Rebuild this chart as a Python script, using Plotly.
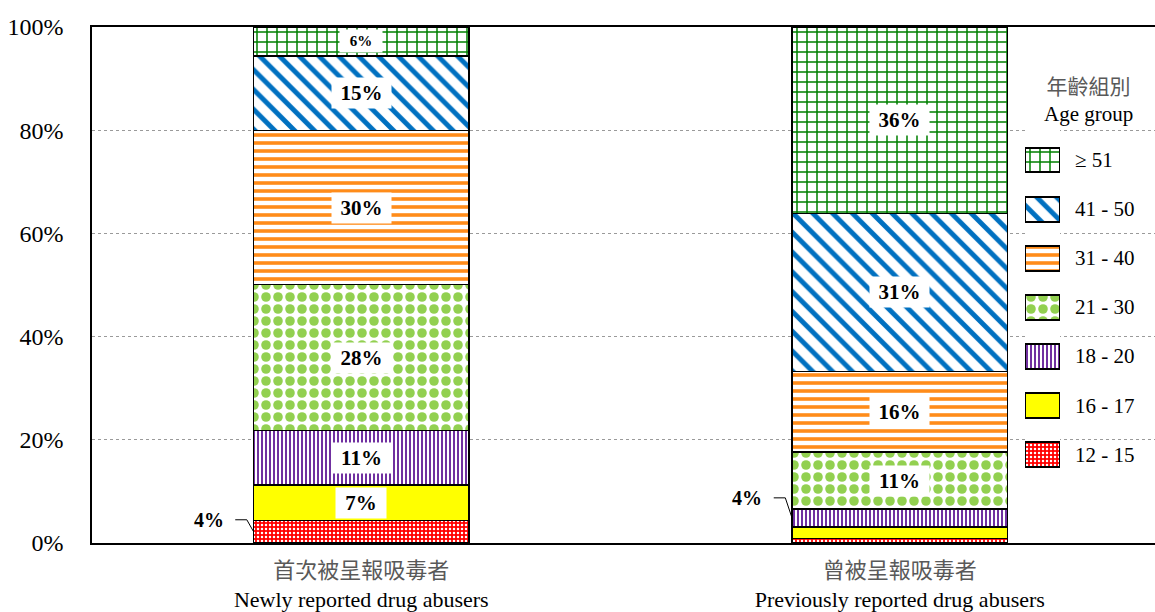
import plotly.graph_objects as go

# ---------------- data ----------------
categories_zh = ["首次被呈報吸毒者", "曾被呈報吸毒者"]
categories_en = ["Newly reported drug abusers", "Previously reported drug abusers"]
age_groups = ["12 - 15", "16 - 17", "18 - 20", "21 - 30", "31 - 40", "41 - 50", "≥ 51"]
newly = [4.4, 6.8, 10.6, 28.3, 29.8, 14.5, 5.6]
previously = [0.9, 2.2, 3.5, 11.0, 15.6, 30.7, 36.1]
newly_labels = ["4%", "7%", "11%", "28%", "30%", "15%", "6%"]
previously_labels = ["", "", "4%", "11%", "16%", "31%", "36%"]
y_tick_values = [0, 20, 40, 60, 80, 100]
y_tick_labels = ["0%", "20%", "40%", "60%", "80%", "100%"]
legend_title_zh = "年齡組別"
legend_title_en = "Age group"

# ---------------- styles ----------------
FONT = "Times New Roman, Liberation Serif, Noto Sans CJK TC, serif"
GREY = "#595959"
styles = [
    dict(bg="#FF0000", shape=".", fg="#FFFFFF", size=4, sol=0.3),
    dict(bg="#FFFF00", shape="", fg="#FFFF00", size=8, sol=0.3),
    dict(bg="#FFFFFF", shape="|", fg="#7030A0", size=4, sol=0.5),
    dict(bg="#FFFFFF", shape=".", fg="#92D050", size=12, sol=0.5),
    dict(bg="#FFFFFF", shape="-", fg="#FF8C1A", size=8, sol=0.45),
    dict(bg="#FFFFFF", shape="\\", fg="#0070C0", size=14, sol=0.35),
    dict(bg="#FFFFFF", shape="+", fg="#008000", size=10, sol=0.28),
]
BAR_W = 0.4
series = [newly, previously]
series_labels = [newly_labels, previously_labels]
xpos = list(range(len(categories_en)))


def marker_for(st, lw=1.5):
    return dict(
        color=st["bg"],
        pattern=dict(shape=st["shape"], fgcolor=st["fg"], bgcolor=st["bg"],
                     size=st["size"], solidity=st["sol"], fillmode="replace"),
        line=dict(color="black", width=lw),
    )


fig = go.Figure()

# main stacked bars
for k, grp in enumerate(age_groups):
    fig.add_trace(go.Bar(
        x=xpos, y=[s[k] for s in series], width=BAR_W, name=grp,
        marker=marker_for(styles[k]), showlegend=False, hoverinfo="skip",
        xaxis="x", yaxis="y",
    ))

annotations = []
# in-bar labels and outside leader labels
outside_offsets = {0: 2.3, 1: 3.9}
for j, (vals, labs) in enumerate(zip(series, series_labels)):
    cum = 0
    for k, v in enumerate(vals):
        mid = cum + v / 2
        cum += v
        lab = labs[k]
        if not lab:
            continue
        if v >= 5:
            fs = 21 if v >= 6.5 else 15
            w = (44 if len(lab) == 2 else 53) if fs == 21 else 36
            annotations.append(dict(
                x=j, y=mid, xref="x", yref="y", text="<b>%s</b>" % lab,
                showarrow=False, bgcolor="white", borderpad=3, width=w,
                font=dict(family=FONT, size=fs, color="black"),
                xanchor="center", yanchor="middle",
            ))
        else:
            edge = j - BAR_W / 2
            ly = mid + outside_offsets[j]
            fig.add_trace(go.Scatter(
                x=[edge - 0.034, edge - 0.0125, edge], y=[ly, ly, mid],
                mode="lines", line=dict(color="black", width=1),
                showlegend=False, hoverinfo="skip", xaxis="x", yaxis="y",
            ))
            annotations.append(dict(
                x=edge - 0.052, y=ly, xref="x", yref="y", text="<b>%s</b>" % lab,
                showarrow=False, font=dict(family=FONT, size=20, color="black"),
                xanchor="right", yanchor="middle",
            ))

# custom legend swatches (separate small axes)
n = len(age_groups)
for k, grp in enumerate(age_groups):
    idx = n - 1 - k
    fig.add_trace(go.Bar(
        x=[1], y=[idx], base=[0], width=0.507, orientation="h",
        marker=marker_for(styles[k], lw=2), showlegend=False, hoverinfo="skip",
        xaxis="x2", yaxis="y2",
    ))
    annotations.append(dict(
        x=0.9229, y=idx, xref="paper", yref="y2", text=grp, showarrow=False,
        xanchor="left", yanchor="middle", font=dict(family=FONT, size=21, color="black"),
    ))

annotations.append(dict(
    x=0.937, y=0.857, xref="paper", yref="paper",
    text="<span style='color:%s'>%s</span><br>%s" % (GREY, legend_title_zh, legend_title_en),
    showarrow=False, xanchor="center", yanchor="middle",
    font=dict(family=FONT, size=21, color="black"),
))

ticktext = ["<span style='color:%s'>%s</span><br>%s" % (GREY, zh, en)
            for zh, en in zip(categories_zh, categories_en)]

fig.update_layout(
    width=1155, height=612,
    margin=dict(l=92, r=0, t=27, b=67),
    paper_bgcolor="white", plot_bgcolor="white",
    barmode="stack", showlegend=False,
    font=dict(family=FONT, size=20, color="black"),
    annotations=annotations,
    xaxis=dict(
        range=[-0.5, -0.5 + 1063 / 538.5], tickvals=xpos, ticktext=ticktext,
        showline=True, linecolor="black", linewidth=1.5, mirror=True,
        showgrid=False, zeroline=False, ticks="", ticklabelstandoff=7,
        tickfont=dict(family=FONT, size=22, color="black"), fixedrange=True,
    ),
    yaxis=dict(
        range=[0, 100], tickvals=y_tick_values, ticktext=y_tick_labels,
        showline=True, linecolor="black", linewidth=1.5, mirror=False,
        showgrid=True, gridcolor="#9A9A9A", griddash="dot", gridwidth=1,
        zeroline=False, ticks="", ticklabelstandoff=22,
        tickfont=dict(family=FONT, size=24, color="black"), fixedrange=True,
    ),
    xaxis2=dict(domain=[(1025 - 92) / 1063, (1060 - 92) / 1063], range=[0, 1],
                anchor="y2", visible=False, fixedrange=True),
    yaxis2=dict(domain=[0, 1], range=[(545 - 160.5) / 49.3, (27 - 160.5) / 49.3],
                anchor="x2", visible=False, fixedrange=True),
)

fig.write_html(
    "out.html",
    config={"displayModeBar": False},
    post_script="document.body.style.margin='0px';document.body.style.padding='0px';",
)
